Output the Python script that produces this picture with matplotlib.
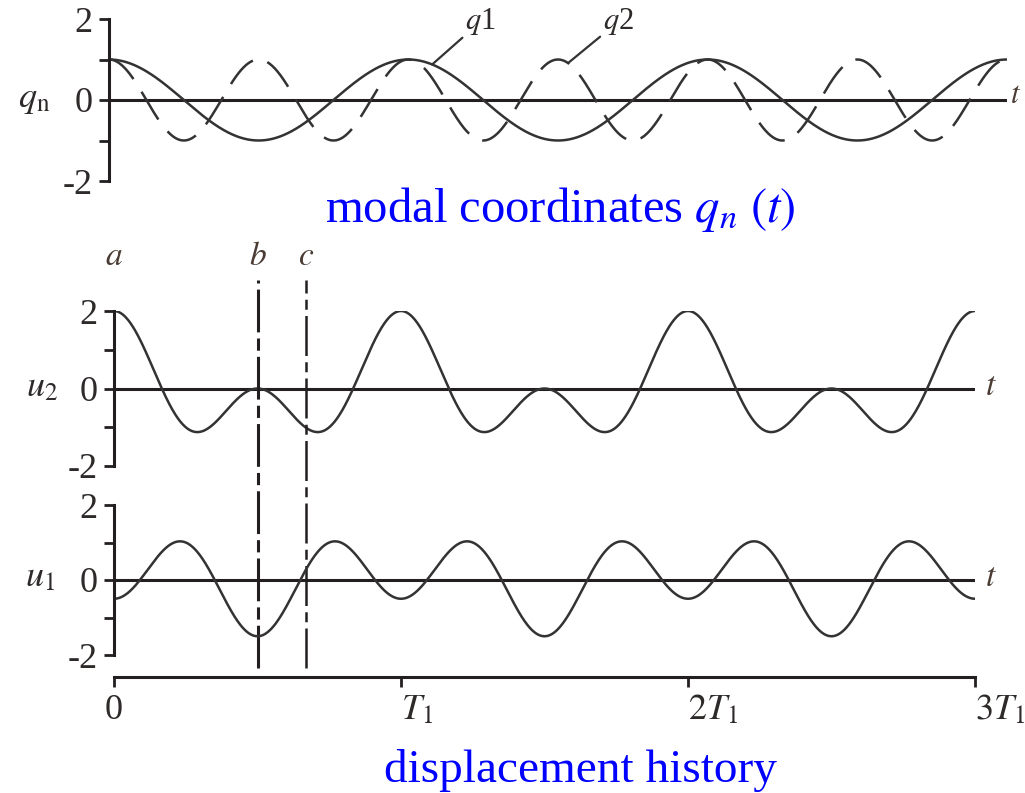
import numpy as np
import matplotlib
matplotlib.use("Agg")
import matplotlib.pyplot as plt
from matplotlib.transforms import blended_transform_factory

# modal data (2-DOF free vibration)
t_end = 3.0                      # in units of T1
freq_ratio = [1.0, 2.0]          # omega_n / omega_1
q_init = [1.0, 1.0]              # q1(0), q2(0)
phi1 = [0.5, 1.0]                # mode 1 shape (u1, u2)
phi2 = [-1.0, 1.0]               # mode 2 shape (u1, u2)
t_b = 0.5                        # instant b
t_c = 0.67                       # instant c
y_ticks = [-2, -1, 0, 1, 2]
y_ticklabels = ["-2", "", "0", "", "2"]
x_ticks = [0, 1, 2, 3]
x_ticklabels = ["0", "$T_1$", "$2T_1$", "$3T_1$"]

plt.rcParams["font.family"] = ["Liberation Serif", "DejaVu Serif"]
plt.rcParams["mathtext.fontset"] = "stix"

W, H = 1025, 793
fig = plt.figure(figsize=(W / 100, H / 100), dpi=100)

def box(x0, y0, x1, y1):
    # pixel box (top-left origin) -> figure fraction rect
    return [x0 / W, 1 - y1 / H, (x1 - x0) / W, (y1 - y0) / H]

ink = "#231f20"
curve = "#333333"
txt = "#2e2a2a"
lab = "#4a3c34"

t = np.linspace(0, t_end, 1500)
q1 = q_init[0] * np.cos(2 * np.pi * freq_ratio[0] * t)
q2 = q_init[1] * np.cos(2 * np.pi * freq_ratio[1] * t)
u1 = phi1[0] * q1 + phi2[0] * q2
u2 = phi1[1] * q1 + phi2[1] * q2

def style(ax, bottom=False):
    ax.set_ylim(-2, 2)
    ax.set_xlim(0, t_end)
    for s in ["top", "right"]:
        ax.spines[s].set_visible(False)
    ax.spines["left"].set_linewidth(2.2)
    ax.spines["left"].set_color(ink)
    ax.set_yticks(y_ticks)
    ax.set_yticklabels(y_ticklabels)
    ax.tick_params(axis="y", direction="out", length=7, width=2, color=ink,
                   labelsize=26, labelcolor=txt, pad=5)
    ax.axhline(0, color=ink, lw=2.2, zorder=1)
    ax.set_facecolor("none")
    if bottom:
        ax.spines["bottom"].set_position(("outward", 16))
        ax.spines["bottom"].set_linewidth(2.2)
        ax.spines["bottom"].set_color(ink)
        ax.set_xticks(x_ticks)
        ax.set_xticklabels(x_ticklabels)
        ax.tick_params(axis="x", direction="out", length=7, width=2, color=ink,
                       labelsize=26, labelcolor=txt, pad=5)
        for i, l in enumerate(ax.get_xticklabels()):
            if i > 0:
                l.set_ha("left")
    else:
        ax.spines["bottom"].set_visible(False)
        ax.set_xticks([])

# modal coordinates
ax_q = fig.add_axes(box(109, 19, 1007, 181))
style(ax_q)
ax_q.plot(t, q1, color=curve, lw=1.8)
ax_q.plot(t, q2, color=curve, lw=1.8, linestyle=(0, (13, 6)))
ax_q.annotate("$q$1", xy=(1.08, 0.88), xytext=(1.19, 1.55), fontsize=22,
              color=txt, va="bottom", ha="left",
              arrowprops=dict(arrowstyle="-", color=curve, lw=1.6,
                              shrinkA=0, shrinkB=0))
ax_q.annotate("$q$2", xy=(1.535, 0.92), xytext=(1.65, 1.55), fontsize=22,
              color=txt, va="bottom", ha="left",
              arrowprops=dict(arrowstyle="-", color=curve, lw=1.6,
                              shrinkA=0, shrinkB=0))
ax_q.text(1.003, 0.1, "$t$", transform=ax_q.get_yaxis_transform(),
          fontsize=22, color=lab, va="center", ha="left")
fig.text(34 / W, 1 - 100 / H, r"$q_{\rm n}$", fontsize=26, color=txt,
         ha="center", va="center")

# u2
ax_u2 = fig.add_axes(box(114, 311, 975, 466))
style(ax_u2)
ax_u2.plot(t, u2, color=curve, lw=1.8)
ax_u2.text(1.012, 0.05, "$t$", transform=ax_u2.get_yaxis_transform(),
           fontsize=24, color=lab, va="center", ha="left")
fig.text(42 / W, 1 - 388 / H, "$u_2$", fontsize=26, color=txt,
         ha="center", va="center")

# u1
ax_u1 = fig.add_axes(box(114, 505, 975, 655))
style(ax_u1, bottom=True)
ax_u1.plot(t, u1, color=curve, lw=1.8)
ax_u1.text(1.012, 0.05, "$t$", transform=ax_u1.get_yaxis_transform(),
           fontsize=24, color=lab, va="center", ha="left")
fig.text(40 / W, 1 - 578 / H, "$u_1$", fontsize=26, color=txt,
         ha="center", va="center")

# instants a, b, c
tr = blended_transform_factory(ax_u2.transData, fig.transFigure)
y_lo, y_hi = 1 - 668 / H, 1 - 280 / H
ax_u2.plot([t_b, t_b], [y_lo, y_hi], transform=tr, clip_on=False,
           color=ink, lw=2.2, linestyle=(0, (14, 2, 4, 2)))
ax_u2.plot([t_c, t_c], [y_lo, y_hi], transform=tr, clip_on=False,
           color=ink, lw=1.8, linestyle=(0, (16, 2.5, 4, 2.5)))
for tx, name in zip([0.0, t_b, t_c], ["a", "b", "c"]):
    ax_u2.text(tx, 1 - 257 / H, "$" + name + "$", transform=tr, fontsize=24,
               color=lab, ha="center", va="center")

# captions
fig.text(560 / W, 1 - 222 / H, "modal coordinates $q_n\\ (t)$",
         fontsize=35, color="#0000ff", ha="center", va="baseline")
fig.text(580 / W, 1 - 782 / H, "displacement history",
         fontsize=34, color="#0000ff", ha="center", va="baseline")

fig.savefig("out.png", dpi=100)
